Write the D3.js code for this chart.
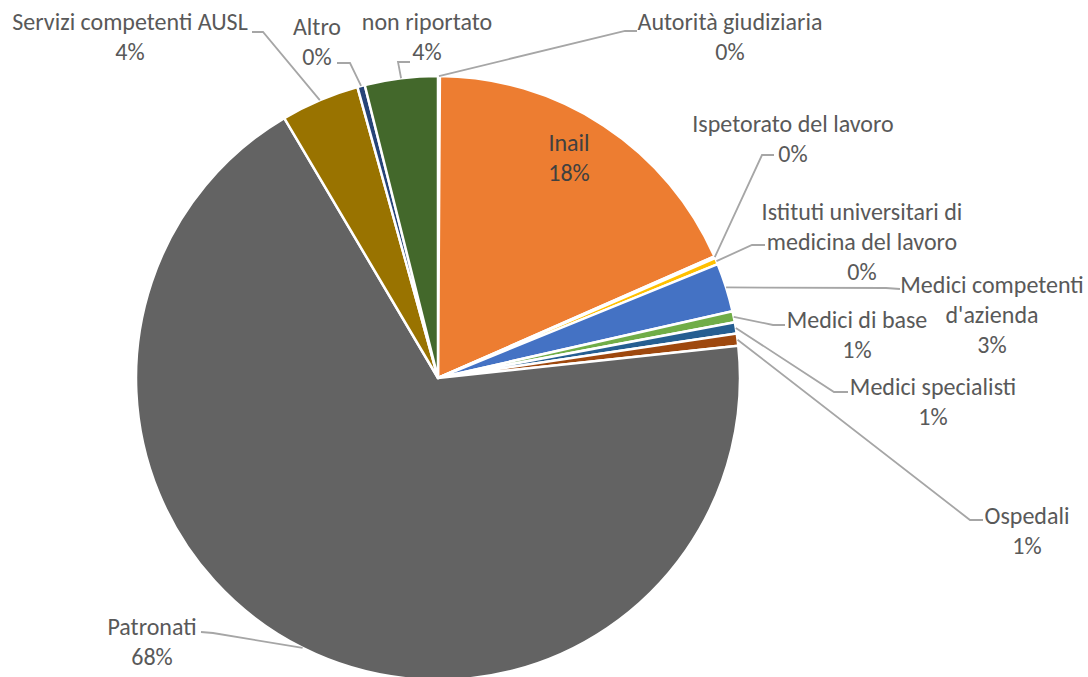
<!DOCTYPE html>
<html>
<head>
<meta charset="utf-8">
<script src="https://cdn.jsdelivr.net/npm/d3@7"></script>
<style>
  html, body { margin: 0; padding: 0; background: #ffffff; }
  svg { display: block; }
</style>
</head>
<body>
<svg id="chart" width="1088" height="677"></svg>
<script>
// ---- data ----
const categories = [
  "Autorità giudiziaria",
  "Inail",
  "Ispetorato del lavoro",
  "Istituti universitari di medicina del lavoro",
  "Medici competenti d'azienda",
  "Medici di base",
  "Medici specialisti",
  "Ospedali",
  "Patronati",
  "Servizi competenti AUSL",
  "Altro",
  "non riportato"
];
const values = [0.1, 18.3, 0.1, 0.35, 2.6, 0.6, 0.6, 0.65, 68.2, 4.2, 0.4, 3.9];
const labelLines = [
  ["Autorità giudiziaria"],
  ["Inail"],
  ["Ispetorato del lavoro"],
  ["Istituti universitari di", "medicina del lavoro"],
  ["Medici competenti", "d'azienda"],
  ["Medici di base"],
  ["Medici specialisti"],
  ["Ospedali"],
  ["Patronati"],
  ["Servizi competenti AUSL"],
  ["Altro"],
  ["non riportato"]
];
const colors = ["#4472C4", "#ED7D31", "#A5A5A5", "#FFC000", "#4472C4", "#70AD47",
                "#255E91", "#9E480E", "#636363", "#997300", "#264478", "#43682B"];

// ---- layout (label placement, leader elbows) ----
const cx = 438, cy = 378, R = 302;
const labelLayout = [
  { x: 730, y: 22, leader: [[625, 31], [637, 31]] },
  { x: 569, y: 143, leader: null },
  { x: 793, y: 124, leader: [[762, 155], [774, 155]] },
  { x: 862, y: 212, leader: [[752, 245], [765, 245]] },
  { x: 992, y: 285, leader: [[886, 288], [900, 289]] },
  { x: 857, y: 320, leader: [[773, 325], [785, 325]] },
  { x: 933, y: 387, leader: [[834, 392], [848, 392]] },
  { x: 1027, y: 516, leader: [[970, 520], [983, 520]] },
  { x: 152, y: 627, leader: [[213, 633], [201, 632]] },
  { x: 130, y: 22, leader: [[263, 32], [252, 32]] },
  { x: 317, y: 27, leader: [[350, 63], [337, 63]] },
  { x: 427, y: 22, leader: [[398, 62], [410, 62]] }
];
const lineH = 30;

const data = categories.map((c, i) => ({ name: c, value: values[i], lines: labelLines[i], color: colors[i], layout: labelLayout[i] }));

const svg = d3.select("#chart");
const g = svg.append("g").attr("transform", `translate(${cx},${cy})`);

const pie = d3.pie().sort(null).value(d => d.value).startAngle(0).endAngle(2 * Math.PI);
const arc = d3.arc().innerRadius(0).outerRadius(R);
const arcs = pie(data);

g.selectAll("path.slice").data(arcs).enter().append("path")
  .attr("class", "slice")
  .attr("d", arc)
  .attr("fill", d => d.data.color)
  .attr("stroke", "#ffffff")
  .attr("stroke-width", 2.5)
  .attr("stroke-linejoin", "round");

const total = d3.sum(values);
const pct = v => Math.round(v / total * 100) + "%";

// font size fitted so text width matches the reference (Calibri-like metrics)
const fontFamily = "Carlito, Calibri, Lato, 'Liberation Sans', sans-serif";
const probe = svg.append("text").attr("font-family", fontFamily).attr("font-size", 24).text("Ispetorato del lavoro");
const w = probe.node().getComputedTextLength();
probe.remove();
const fontSize = Math.min(24, 24 * 202 / w);

// leader lines
const line = d3.line();
arcs.forEach(a => {
  const L = a.data.layout;
  if (!L.leader) return;
  const mid = (a.startAngle + a.endAngle) / 2;
  const p0 = [cx + R * Math.sin(mid), cy - R * Math.cos(mid)];
  svg.append("path")
    .attr("d", line([p0, ...L.leader]))
    .attr("fill", "none")
    .attr("stroke", "#A6A6A6")
    .attr("stroke-width", 1.8);
});

// labels
arcs.forEach(a => {
  const L = a.data.layout;
  const lines = a.data.lines.concat([pct(a.data.value)]);
  const t = svg.append("text")
    .attr("font-family", fontFamily)
    .attr("font-size", fontSize)
    .attr("fill", a.data.name === "Inail" ? "#404040" : "#595959")
    .attr("text-anchor", "middle");
  lines.forEach((s, k) => {
    t.append("tspan")
      .attr("x", L.x)
      .attr("y", L.y + k * lineH)
      .attr("dy", "0.35em")
      .text(s);
  });
});
</script>
</body>
</html>
